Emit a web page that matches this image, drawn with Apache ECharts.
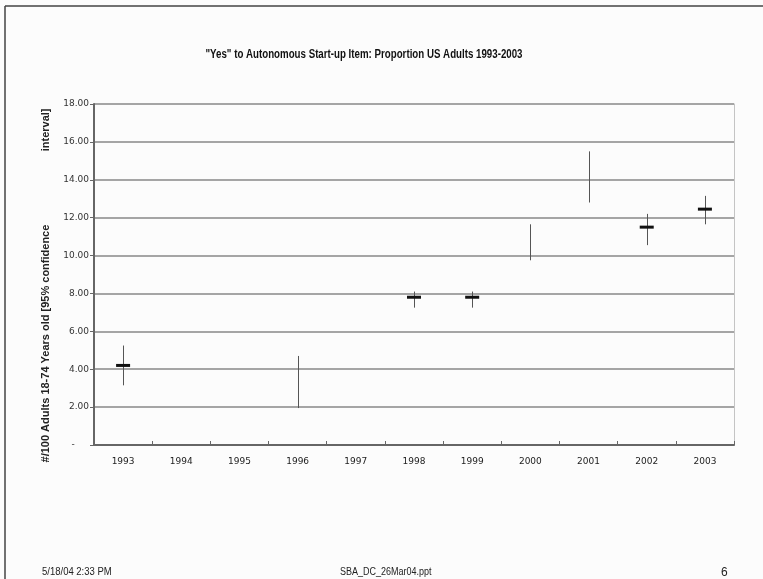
<!DOCTYPE html>
<html>
<head>
<meta charset="utf-8">
<script src="https://cdn.jsdelivr.net/npm/echarts@6/dist/echarts.min.js"></script>
<style>
  html, body { margin: 0; padding: 0; background: #fcfcfc; }
  #chart { width: 763px; height: 579px; }
</style>
</head>
<body>
<div id="chart"></div>
<script>
// Survey years on the category axis
const years = ['1993', '1994', '1995', '1996', '1997', '1998', '1999', '2000', '2001', '2002', '2003'];
// Upper end of the 95% confidence interval, per 100 adults
const highs = [5.25, null, null, 4.7, null, 8.1, 8.1, 11.65, 15.5, 12.2, 13.15];
// Lower end of the 95% confidence interval
const lows = [3.15, null, null, 1.95, null, 7.25, 7.25, 9.75, 12.8, 10.55, 11.65];
// Point estimate (drawn as a short dash where reported)
const means = [4.2, null, null, null, null, 7.8, 7.8, null, null, 11.5, 12.45];
// Value axis ticks
const yTicks = [0, 2, 4, 6, 8, 10, 12, 14, 16, 18];

const chart = echarts.init(document.getElementById('chart'), null, { renderer: 'canvas' });

const rows = years.map((y, i) => [i, lows[i], highs[i], means[i]]);

// High-low line with a short horizontal dash at the estimate
function renderInterval(params, api) {
  const idx = api.value(0);
  const lo = api.value(1);
  const hi = api.value(2);
  const mid = api.value(3);
  const children = [];
  if (lo !== null && hi !== null && !isNaN(lo) && !isNaN(hi)) {
    const pLo = api.coord([idx, lo]);
    const pHi = api.coord([idx, hi]);
    children.push({
      type: 'line',
      shape: { x1: Math.round(pLo[0]) + 0.5, y1: pLo[1], x2: Math.round(pHi[0]) + 0.5, y2: pHi[1] },
      style: { stroke: '#555', lineWidth: 1 }
    });
  }
  if (mid !== null && !isNaN(mid)) {
    const pM = api.coord([idx, mid]);
    children.push({
      type: 'line',
      shape: { x1: pM[0] - 7, y1: pM[1], x2: pM[0] + 7, y2: pM[1] },
      style: { stroke: '#111', lineWidth: 3 }
    });
  }
  return { type: 'group', children: children };
}

const option = {
  backgroundColor: '#fcfcfc',
  animation: false,
  grid: { left: 94, right: 29, top: 104, bottom: 134 },
  xAxis: {
    type: 'category',
    data: years,
    boundaryGap: true,
    axisLine: { lineStyle: { color: '#666', width: 2 } },
    axisTick: { show: true, inside: true, length: 4, lineStyle: { color: '#666', width: 1 } },
    axisLabel: {
      margin: 12,
      fontFamily: '"DejaVu Sans", sans-serif',
      fontSize: 9,
      color: '#222'
    },
    splitLine: { show: false }
  },
  yAxis: [
    {
      type: 'value',
      min: yTicks[0],
      max: yTicks[yTicks.length - 1],
      interval: 2,
      axisLine: { show: true, lineStyle: { color: '#666', width: 2 } },
      axisTick: { show: true, length: 4, lineStyle: { color: '#666', width: 1 } },
      axisLabel: {
        margin: 5,
        fontFamily: '"DejaVu Sans", sans-serif',
        fontSize: 9,
        color: '#333',
        formatter: v => (v === 0 ? '-     ' : v.toFixed(2))
      },
      splitLine: { show: true, lineStyle: { color: '#888', width: 1.6 } },
      name: '#/100 Adults 18-74 Years old [95% confidence                        interval]',
      nameLocation: 'middle',
      nameGap: 43,
      nameRotate: 90,
      nameTextStyle: {
        fontFamily: '"Liberation Sans", Arial, sans-serif',
        fontWeight: 'bold',
        fontSize: 11,
        color: '#222',
        padding: [0, 22, 0, 0]
      }
    },
    {
      type: 'value',
      position: 'right',
      min: yTicks[0],
      max: yTicks[yTicks.length - 1],
      interval: 2,
      axisLine: { show: true, lineStyle: { color: '#c4c4c4', width: 1 } },
      axisTick: { show: false },
      axisLabel: { show: false },
      splitLine: { show: false }
    }
  ],
  series: [
    {
      type: 'custom',
      renderItem: renderInterval,
      data: rows,
      encode: { x: 0, y: [1, 2, 3] },
      z: 5
    }
  ],
  graphic: [
    // slide frame
    { type: 'line', shape: { x1: 5, y1: 6, x2: 763, y2: 6 }, style: { stroke: '#444', lineWidth: 1.5 } },
    { type: 'line', shape: { x1: 5, y1: 6, x2: 5, y2: 579 }, style: { stroke: '#444', lineWidth: 1.5 } },
    // chart title, condensed
    {
      type: 'text', x: 364, y: 55, scaleX: 0.81,
      style: {
        text: '"Yes" to Autonomous Start-up Item: Proportion US Adults 1993-2003',
        font: 'bold 12px "Liberation Sans", Arial, sans-serif',
        fill: '#111', align: 'center', verticalAlign: 'middle'
      }
    },
    // slide footer
    {
      type: 'text', x: 42, y: 572, scaleX: 0.95,
      style: { text: '5/18/04 2:33 PM', font: '10px "Liberation Sans", sans-serif', fill: '#222', verticalAlign: 'middle' }
    },
    {
      type: 'text', x: 340, y: 572, scaleX: 0.9,
      style: { text: 'SBA_DC_26Mar04.ppt', font: '10px "Liberation Sans", sans-serif', fill: '#222', verticalAlign: 'middle' }
    },
    {
      type: 'text', x: 721, y: 573,
      style: { text: '6', font: '12px "Liberation Sans", sans-serif', fill: '#222', verticalAlign: 'middle' }
    }
  ]
};

chart.setOption(option);
</script>
</body>
</html>
